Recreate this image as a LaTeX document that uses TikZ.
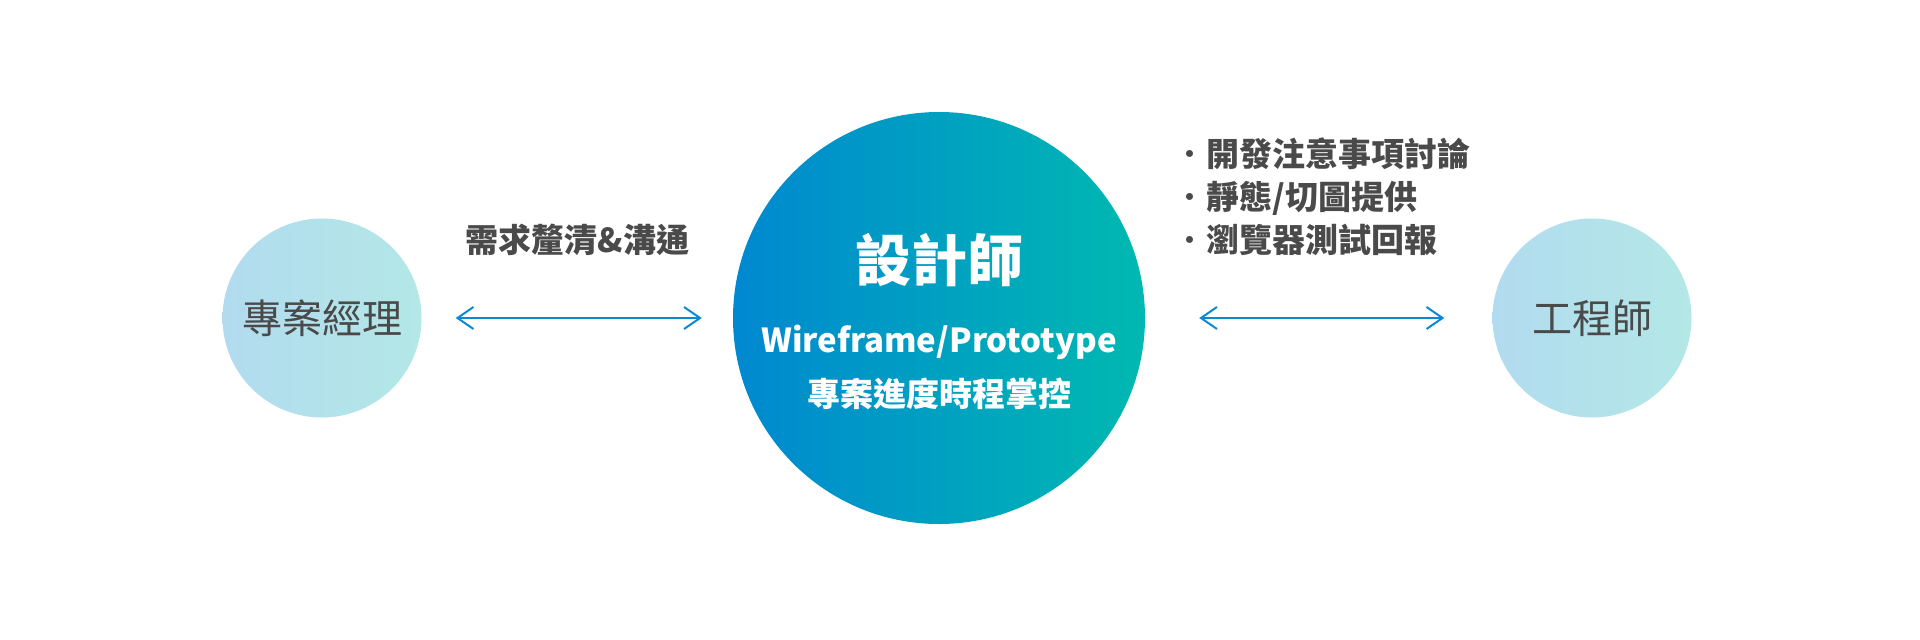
\documentclass[tikz,border=0pt]{standalone}
\usepackage{fontspec}
\setmainfont{Noto Sans CJK TC}
\usepackage{xcolor}
\definecolor{skyleft}{HTML}{B2DBEF}
\definecolor{skyright}{HTML}{B3E8E6}
\definecolor{deepblue}{HTML}{0088D1}
\definecolor{deepteal}{HTML}{00B9B0}
\definecolor{arrblue}{HTML}{0A8AD2}
\definecolor{textgray}{HTML}{4A4A4A}
\usetikzlibrary{arrows.meta, positioning}
\newcommand{\bul}{{\mdseries ・}}
\tikzset{
  rolecirc/.style={circle, inner sep=0pt, minimum size=199pt, left color=skyleft, right color=skyright,
                   text=textgray, font=\fontsize{40}{48}\selectfont},
  descirc/.style ={circle, inner sep=0pt, minimum size=412pt, left color=deepblue, right color=deepteal,
                   text=white, align=center, font=\bfseries\fontsize{33}{54}\selectfont},
  darr/.style={{Straight Barb[length=16pt, width=22pt]}-{Straight Barb[length=16pt, width=22pt]},
               line width=2pt, color=arrblue},
  dlbl/.style={font=\bfseries\fontsize{33}{43}\selectfont, text=textgray, inner sep=0pt, align=left},
}
\begin{document}
\begin{tikzpicture}[x=1pt, y=-1pt]
  \useasboundingbox (0,0) rectangle (1920,640);
  \node[rolecirc] (pm)  at (322,318)  {專案經理};
  \node[descirc]  (des) at (939,318)  {\rule{0pt}{55pt}{\fontsize{56}{60}\selectfont 設計師}\\[17pt]
                                       Wireframe/Prototype\\ 專案進度時程掌控};
  \node[rolecirc] (eng) at (1592,318) {工程師};
  \draw[darr, shorten <=34pt, shorten >=31pt] (pm) -- node[dlbl, yshift=78pt] (req) {需求釐清\&溝通} (des);
  \draw[darr, shorten <=54pt, shorten >=48pt] (des) -- node[dlbl, anchor=west, xshift=-146pt, yshift=121pt] (tasks)
    {\bul 開發注意事項討論\\ \bul 靜態/切圖提供\\ \bul 瀏覽器測試回報} (eng);
\end{tikzpicture}
\end{document}
